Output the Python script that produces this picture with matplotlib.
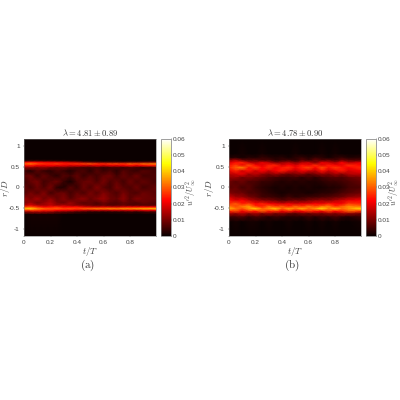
import matplotlib
matplotlib.use('Agg')
import matplotlib.pyplot as plt
import numpy as np

plt.rcParams['font.family'] = ['Liberation Sans', 'DejaVu Sans']
plt.rcParams['mathtext.fontset'] = 'cm'

t_values = [0, .05, .1, .15, .2, .25, .3, .35, .4, .45, .5, .55, .6, .65, .7, .75, .8, .85, .9, .996]
x_ticks = [0, 0.2, 0.4, 0.6, 0.8]
x_tick_labels = ['0', '0.2', '0.4', '0.6', '0.8']
y_ticks = [-1, -0.5, 0, 0.5, 1]
y_tick_labels = ['-1', '-0.5', '0', '0.5', '1']
cbar_ticks = [0, 0.01, 0.02, 0.03, 0.04, 0.05, 0.06]
cbar_tick_labels = ['0', '0.01', '0.02', '0.03', '0.04', '0.05', '0.06']
title_a = r'$\lambda = 4.81 \pm 0.89$'
title_b = r'$\lambda = 4.78 \pm 0.90$'

r_a = [1.18, .68, .64, .61, .57, .53, .48, .40, .28, .14, 0, -.14, -.28, -.38, -.44, -.48, -.52, -.56, -.60, -.66, -1.18]
u_a = [
 [0]*20,
 [0, 0, 0, 0, 0, 0, 0, 0, 0, 0, 0, 0, 0, 0, 0, 0, 0, 0, 0, 0],
 [4, 5, 5, 4, 4, 3, 3, 2, 2, 1, 1, 1, 0, 1, 1, 0, 1, 0, 1, 1],
 [20, 23, 21, 20, 19, 18, 18, 15, 13, 10, 8, 7, 7, 6, 6, 6, 7, 7, 8, 9],
 [30, 32, 28, 26, 25, 27, 24, 25, 26, 27, 29, 26, 25, 27, 28, 26, 30, 28, 31, 33],
 [22, 24, 21, 20, 22, 20, 20, 18, 19, 18, 17, 20, 17, 20, 19, 21, 23, 20, 23, 25],
 [11, 12, 10, 12, 9, 8, 9, 7, 6, 5, 5, 6, 4, 5, 6, 4, 6, 5, 3, 5],
 [5, 2, 7, 4, 3, 6, 4, 2, 5, 6, 3, 7, 4, 6, 3, 7, 5, 4, 7, 5],
 [7, 9, 4, 8, 5, 3, 7, 5, 8, 4, 7, 5, 8, 9, 5, 8, 6, 9, 5, 6],
 [4, 8, 10, 5, 7, 9, 4, 1, 6, 8, 9, 6, 10, 6, 8, 5, 9, 6, 8, 5],
 [8, 5, 9, 6, 10, 3, 2, 7, 4, 9, 6, 11, 7, 5, 10, 7, 6, 9, 5, 8],
 [6, 10, 7, 11, 5, 8, 9, 5, 8, 6, 10, 7, 11, 8, 6, 10, 7, 6, 9, 7],
 [13, 10, 14, 9, 12, 8, 11, 7, 10, 12, 8, 11, 13, 9, 8, 12, 7, 11, 9, 8],
 [10, 14, 9, 12, 15, 10, 8, 13, 9, 7, 8, 6, 9, 7, 6, 8, 7, 6, 8, 6],
 [16, 19, 15, 14, 16, 13, 15, 12, 11, 10, 8, 7, 8, 6, 7, 8, 6, 7, 6, 7],
 [27, 29, 25, 21, 23, 25, 21, 22, 23, 19, 18, 17, 19, 18, 17, 19, 21, 20, 22, 21],
 [38, 40, 34, 31, 29, 30, 28, 29, 27, 30, 31, 33, 32, 34, 33, 35, 34, 36, 37, 39],
 [26, 28, 27, 24, 25, 22, 21, 20, 18, 17, 15, 17, 16, 17, 18, 17, 19, 17, 20, 21],
 [11, 13, 14, 13, 12, 9, 8, 7, 5, 4, 3, 3, 2, 3, 3, 3, 4, 3, 4, 5],
 [0, 1, 1, 1, 1, 1, 0, 0, 0, 0, 0, 0, 0, 0, 0, 0, 0, 0, 0, 0],
 [0]*20,
]

r_b = [1.18, .82, .72, .66, .60, .54, .48, .40, .32, .24, .14, 0, -.14, -.24, -.32, -.40, -.46, -.52, -.58, -.64, -.72, -.84, -1.18]
u_b = [
 [0]*20,
 [0, 0, 1, 0, 0, 1, 0, 0, 0, 0, 1, 0, 0, 0, 1, 0, 1, 0, 0, 0],
 [2, 3, 1, 3, 2, 4, 3, 2, 3, 1, 3, 4, 2, 4, 3, 1, 3, 4, 2, 3],
 [12, 15, 9, 7, 8, 5, 6, 3, 4, 5, 3, 7, 4, 9, 6, 8, 5, 9, 7, 6],
 [19, 23, 25, 17, 14, 20, 16, 11, 13, 15, 11, 15, 17, 10, 20, 17, 14, 22, 15, 20],
 [23, 27, 20, 29, 22, 19, 24, 25, 18, 22, 18, 23, 20, 26, 19, 24, 21, 20, 26, 22],
 [25, 30, 34, 23, 28, 22, 26, 21, 24, 26, 21, 25, 28, 22, 29, 23, 27, 24, 22, 26],
 [20, 25, 18, 23, 17, 22, 17, 21, 24, 19, 16, 21, 18, 16, 23, 17, 20, 24, 18, 21],
 [15, 17, 20, 13, 16, 12, 10, 13, 10, 8, 10, 11, 7, 10, 12, 10, 14, 11, 15, 16],
 [12, 13, 9, 11, 9, 8, 6, 5, 4, 4, 5, 3, 5, 3, 5, 6, 7, 6, 8, 10],
 [9, 7, 9, 6, 6, 4, 4, 3, 2, 3, 2, 3, 2, 2, 3, 4, 4, 5, 6, 8],
 [7, 8, 5, 7, 4, 3, 2, 1, 2, 1, 2, 1, 2, 1, 1, 2, 2, 3, 5, 6],
 [11, 9, 9, 6, 6, 4, 3, 2, 1, 2, 2, 2, 1, 2, 3, 3, 4, 6, 7, 9],
 [18, 14, 13, 10, 8, 5, 5, 4, 3, 5, 3, 4, 5, 5, 6, 7, 8, 9, 12, 14],
 [23, 19, 22, 17, 14, 12, 11, 9, 7, 8, 10, 8, 11, 12, 14, 12, 15, 18, 20, 22],
 [26, 30, 24, 27, 22, 25, 21, 20, 18, 21, 17, 20, 19, 22, 20, 24, 22, 21, 27, 25],
 [32, 28, 33, 35, 26, 24, 31, 26, 29, 24, 30, 26, 32, 27, 31, 33, 25, 30, 34, 31],
 [38, 33, 29, 36, 41, 31, 35, 40, 30, 37, 32, 38, 31, 36, 42, 33, 39, 32, 35, 42],
 [24, 28, 21, 26, 23, 30, 24, 26, 21, 25, 20, 22, 26, 23, 21, 27, 22, 25, 30, 26],
 [14, 12, 15, 11, 14, 10, 13, 9, 11, 8, 7, 10, 8, 11, 9, 12, 10, 13, 12, 9],
 [4, 5, 6, 3, 5, 4, 2, 4, 3, 2, 3, 2, 4, 2, 4, 3, 5, 3, 2, 4],
 [0, 1, 0, 1, 1, 0, 1, 0, 0, 1, 0, 0, 1, 0, 1, 0, 1, 0, 0, 1],
 [0]*20,
]

vmin, vmax = 0, 0.06
fig = plt.figure(figsize=(4, 4), dpi=100)
W, H = 400.0, 400.0

def ax_px(x0, y0, x1, y1):
    return fig.add_axes([x0 / W, 1 - y1 / H, (x1 - x0) / W, (y1 - y0) / H])

def panel(px, cpx, r, u, title, caption, cap_x, xlab_x, ylab_x, clab_x):
    ax = ax_px(*px)
    m = ax.pcolormesh(t_values, r, np.array(u) * 1e-3, cmap='hot', vmin=vmin, vmax=vmax,
                      shading='gouraud', rasterized=True)
    ax.set_xlim(0, 0.996)
    ax.set_ylim(-1.18, 1.18)
    ax.set_xticks(x_ticks, x_tick_labels)
    ax.set_yticks(y_ticks, y_tick_labels)
    ax.tick_params(labelsize=4.6, length=1, width=0.3, pad=2, colors='#444444')
    for s in ax.spines.values():
        s.set_linewidth(0.4)
        s.set_color('#777777')
    ax.set_title(title, fontsize=6.2, pad=2, color='#333333')
    fig.text(xlab_x / W, 1 - 251 / H, r'$t/T$', fontsize=6.5, ha='center', va='center', color='#444444')
    fig.text(ylab_x / W, 1 - 188 / H, r'$r/D$', fontsize=6.5, rotation=90, ha='center', va='center', color='#444444')
    fig.text(cap_x / W, 1 - 265 / H, caption, fontsize=8, ha='center', va='center', color='#333333')
    cax = ax_px(*cpx)
    cb = fig.colorbar(m, cax=cax)
    cb.set_ticks(cbar_ticks, labels=cbar_tick_labels)
    cax.tick_params(labelsize=4.6, length=0.8, width=0.3, pad=0.8, colors='#444444')
    cb.outline.set_linewidth(0.5)
    cb.outline.set_edgecolor('#777777')
    fig.text(clab_x / W, 1 - 192 / H, r"$u'^2/U_\infty^2$", fontsize=5.8, rotation=90, ha='center', va='center', color='#444444')

panel((24, 139, 156, 236), (160.5, 139, 170.5, 236), r_a, u_a, title_a, r'$\mathrm{(a)}$', 88, 90, 6, 191)
panel((229, 139, 361.3, 236), (365.7, 139, 375.7, 236), r_b, u_b, title_b, r'$\mathrm{(b)}$', 292, 295, 210, 394)

fig.savefig('out.png', dpi=100)
